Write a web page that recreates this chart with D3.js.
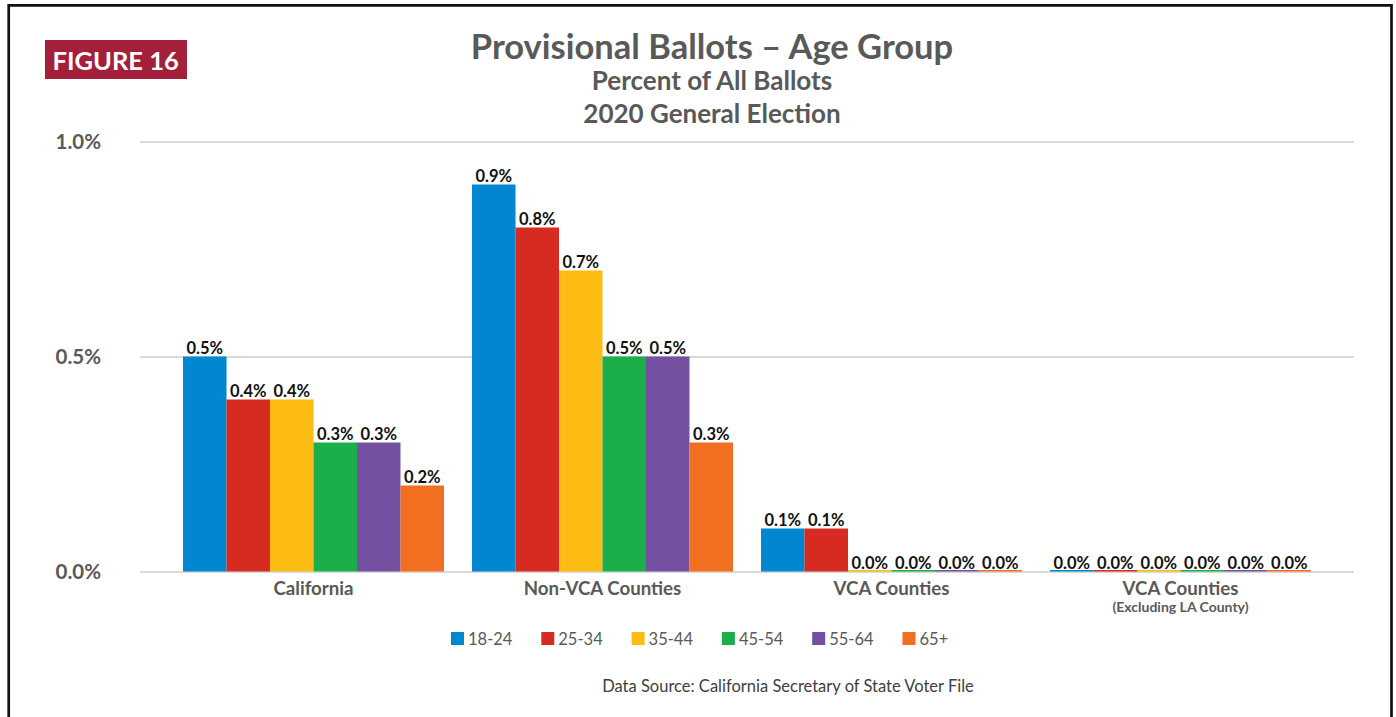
<!DOCTYPE html>
<html>
<head>
<meta charset="utf-8">
<script src="https://cdn.jsdelivr.net/npm/d3@7/dist/d3.min.js"></script>
<style>
  html, body { margin: 0; padding: 0; background: #fff; }
  svg { display: block; }
  text { font-family: Lato, "Open Sans", sans-serif; }
</style>
</head>
<body>
<svg id="chart" width="1396" height="717"></svg>
<script>
// Provisional ballots by age group, percent of all ballots
const categories = ["California", "Non-VCA Counties", "VCA Counties", "VCA Counties"];
const categoryNotes = ["", "", "", "(Excluding LA County)"];
const ageGroups = ["18-24", "25-34", "35-44", "45-54", "55-64", "65+"];
const groupColors = ["#0087D0", "#D72B21", "#FDBC14", "#1BAE4B", "#7451A0", "#F26E21"];

const age18to24 = [0.5, 0.9, 0.1, 0.0];
const age25to34 = [0.4, 0.8, 0.1, 0.0];
const age35to44 = [0.4, 0.7, 0.0, 0.0];
const age45to54 = [0.3, 0.5, 0.0, 0.0];
const age55to64 = [0.3, 0.5, 0.0, 0.0];
const age65plus = [0.2, 0.3, 0.0, 0.0];
const seriesValues = [age18to24, age25to34, age35to44, age45to54, age55to64, age65plus];

const yTicks = [0, 0.5, 1.0];
const yTickLabels = ["0.0%", "0.5%", "1.0%"];

const svg = d3.select("#chart");

// outer frame (left, top, right edges)
svg.append("path")
  .attr("d", "M8.7,717 L8.7,5.3 L1391.5,5.3 L1391.5,717")
  .attr("fill", "none")
  .attr("stroke", "#111")
  .attr("stroke-width", 2.7);

// figure badge
svg.append("rect").attr("x", 45).attr("y", 40).attr("width", 142).attr("height", 39).attr("fill", "#A4203A");
svg.append("text").attr("x", 52.5).attr("y", 69.5)
  .attr("fill", "#fff").attr("font-weight", 700).attr("font-size", 25.5)
  .text("FIGURE 16");

// titles
const titleX = 712;
svg.append("text").attr("x", titleX).attr("y", 59).attr("text-anchor", "middle")
  .attr("fill", "#595959").attr("font-weight", 700).attr("font-size", 34.5)
  .text("Provisional Ballots \u2013 Age Group");
svg.append("text").attr("x", titleX).attr("y", 89.5).attr("text-anchor", "middle")
  .attr("fill", "#595959").attr("font-weight", 700).attr("font-size", 26)
  .text("Percent of All Ballots");
svg.append("text").attr("x", titleX).attr("y", 122.5).attr("text-anchor", "middle")
  .attr("fill", "#595959").attr("font-weight", 700).attr("font-size", 26)
  .text("2020 General Election");

// scales
const y = d3.scaleLinear().domain([0, 1]).range([571.5, 141.5]);
const x0 = d3.scaleBand().domain(d3.range(categories.length)).range([169, 1325]).paddingInner(0.097).paddingOuter(0.0485);
const x1 = d3.scaleBand().domain(d3.range(ageGroups.length)).range([0, x0.bandwidth()]);

// gridlines
const grid = svg.append("g")
  .attr("transform", "translate(140,0)")
  .call(d3.axisLeft(y).tickValues(yTicks).tickSize(-(1354 - 140)).tickFormat(""));
grid.select(".domain").remove();
grid.selectAll(".tick line").attr("stroke", "#D9D9D9").attr("stroke-width", 1.8);

// y tick labels
svg.append("g").selectAll("text").data(yTicks).join("text")
  .attr("x", 101).attr("y", d => y(d) + 7.5)
  .attr("text-anchor", "end")
  .attr("fill", "#595959").attr("font-weight", 700).attr("font-size", 20.5)
  .text((d, i) => yTickLabels[i]);

// bars
const groups = svg.append("g").selectAll("g").data(categories).join("g")
  .attr("transform", (d, i) => `translate(${x0(i)},0)`);

groups.each(function(cat, ci) {
  const g = d3.select(this);
  const vals = seriesValues.map(s => s[ci]);
  g.selectAll("rect").data(vals).join("rect")
    .attr("x", (d, si) => x1(si))
    .attr("width", x1.bandwidth())
    .attr("y", d => Math.min(y(d), y(0) - 1.5))
    .attr("height", d => Math.max(y(0) - y(d), 1.5))
    .attr("fill", (d, si) => groupColors[si]);
  g.selectAll("text").data(vals).join("text")
    .attr("x", (d, si) => x1(si) + x1.bandwidth() / 2)
    .attr("y", d => y(d) - 3)
    .attr("text-anchor", "middle")
    .attr("fill", "#111").attr("font-weight", 700).attr("font-size", 16.5)
    .text(d => d3.format(".1f")(d) + "%");
});

// category labels
svg.append("g").selectAll("text").data(categories).join("text")
  .attr("x", (d, i) => x0(i) + x0.bandwidth() / 2)
  .attr("y", 594.5)
  .attr("text-anchor", "middle")
  .attr("fill", "#595959").attr("font-weight", 700).attr("font-size", 18.7)
  .text(d => d);
// second, smaller line under a category label
svg.append("g").selectAll("text").data(categoryNotes).join("text")
  .attr("x", (d, i) => x0(i) + x0.bandwidth() / 2)
  .attr("y", 612)
  .attr("text-anchor", "middle")
  .attr("fill", "#595959").attr("font-weight", 700).attr("font-size", 14)
  .text(d => d);

// legend
const legend = svg.append("g").selectAll("g").data(ageGroups).join("g")
  .attr("transform", (d, i) => `translate(${451 + i * 90.3},632)`);
legend.append("rect").attr("width", 13).attr("height", 13).attr("fill", (d, i) => groupColors[i]);
legend.append("text").attr("x", 17).attr("y", 12.5)
  .attr("fill", "#595959").attr("font-size", 16.5)
  .text(d => d);

// source note
svg.append("text").attr("x", 788).attr("y", 692).attr("text-anchor", "middle")
  .attr("fill", "#404040").attr("font-size", 16.5)
  .text("Data Source: California Secretary of State Voter File");
</script>
</body>
</html>
